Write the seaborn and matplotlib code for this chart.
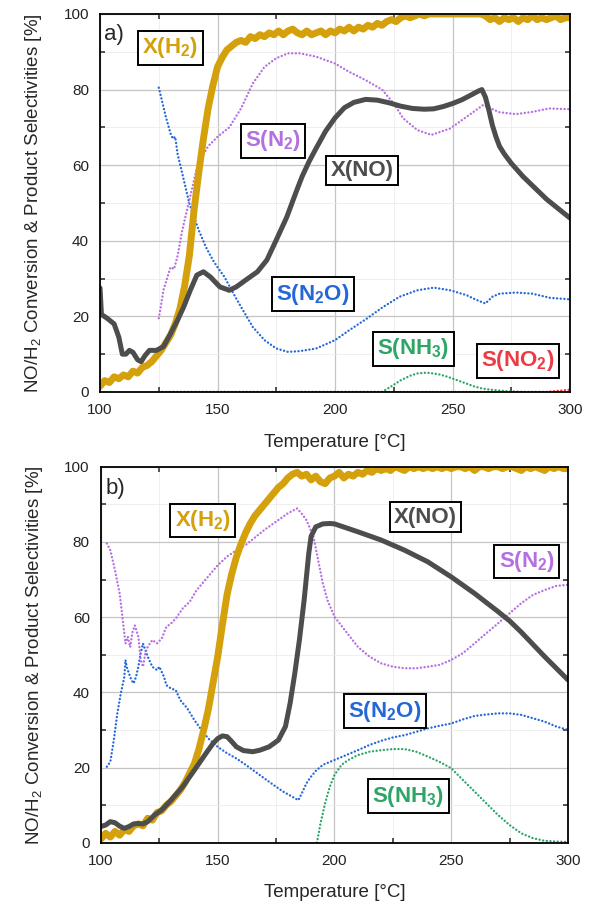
import matplotlib
matplotlib.use("Agg")
import matplotlib.pyplot as plt
import seaborn as sns
from matplotlib.ticker import MultipleLocator

# ---------------- panel a) ----------------
# hydrogen conversion, 2 degC steps
t_h2 = [100, 102, 104, 106, 108, 110, 112, 114, 116, 118, 120, 122, 124, 126, 128,
        130, 132, 134, 136, 138, 140, 142, 144, 146, 148, 150, 152, 154, 156, 158,
        160, 162, 164, 166, 168, 170, 172, 174, 176, 178, 180, 182, 184, 186, 188,
        190, 192, 194, 196, 198, 200, 202, 204, 206, 208, 210, 212, 214, 216, 218,
        220, 222, 224, 226, 228, 230, 232, 234, 236, 238, 240, 242, 244, 246, 248,
        250, 252, 254, 256, 258, 260, 262, 264, 266, 268, 270, 272, 274, 276, 278,
        280, 282, 284, 286, 288, 290, 292, 294, 296, 298, 300]
a_xh2 = [1.5, 3, 2.5, 4, 3.5, 4.5, 4, 5.5, 5, 6.5, 7, 8, 9.5, 11, 13,
         15, 18, 22, 28, 36, 48, 58, 67, 75, 81, 86, 88.5, 90.5, 91.5, 92.5,
         93, 92.5, 94, 93.5, 94.5, 94, 95, 94.5, 95.5, 94.5, 95.5, 96, 95, 94.5, 95.5,
         94.5, 95, 95.5, 94.5, 95.5, 95, 96, 95.5, 96.5, 95.5, 96.5, 96, 97, 96.5, 97.5,
         97, 98, 98.5, 98, 99, 99.5, 99, 99.5, 100, 99.5, 100, 100, 100, 100, 100,
         100, 100, 100, 100, 100, 100, 100, 99.5, 98.5, 99, 98, 99, 98.5, 99, 98,
         99, 98.5, 99.5, 98.5, 99, 98.5, 99, 99.5, 98.5, 99, 99]

a_t_xno = [100, 100.6, 103, 106, 108, 109.5, 111, 112.5, 114, 116, 117.5, 119, 121,
           124, 127, 130, 133, 135.6, 138.4, 141.2, 144, 147, 151, 155, 158, 162,
           167, 171, 175, 179.5, 183.5, 186, 189, 192, 196, 200, 204, 208, 213, 218,
           223, 228, 233, 238, 242, 246, 250, 254, 258, 261, 262.5, 264, 265.5, 267,
           268.5, 270, 272, 275, 280, 285, 290, 295, 300]
a_xno = [27.5, 20.5, 19.5, 18, 14.5, 10, 10, 11, 10.5, 8.5, 8, 9.5, 11,
         11, 12, 15.4, 19, 22.5, 26.9, 30.9, 31.8, 30.4, 27.8, 26.9, 27.8, 29.6,
         31.8, 34.9, 40.2, 46.3, 53, 57, 61, 64.5, 69, 72.5, 75.2, 76.6, 77.4, 77.2,
         76.5, 75.6, 75, 74.8, 74.9, 75.5, 76.3, 77.3, 78.6, 79.6, 80, 78, 74.5, 70.5,
         67.5, 65, 63, 60.5, 57, 54, 51, 48.5, 46]

a_t_sn2 = [125, 126, 127, 128.5, 130, 131.5, 133, 135, 138, 141, 143, 146, 150, 155,
           160, 165, 170, 175, 180, 185, 192, 200, 206, 213, 220, 225, 229, 235, 241,
           249, 256, 263, 270, 277, 284, 291, 300]
a_sn2 = [19.5, 23, 27, 30, 33, 32.5, 36, 42.8, 50.7, 58.7, 61.8, 65, 67.5, 70,
         75, 81.6, 86, 88.3, 89.6, 89.6, 88.7, 86.9, 84.7, 82.5, 80, 76.3, 72.4, 69.3, 68,
         69.7, 72.8, 75.9, 74, 73.5, 74.1, 75, 74.8]

a_t_sn2o = [125, 126, 128, 130, 131, 132, 133, 135, 138, 140, 142, 145, 148, 150, 153,
            156, 160, 165, 170, 175, 180, 185, 192, 200, 206, 213.5, 220.5, 227.5,
            235, 242, 249, 256, 260, 264, 267, 270, 277, 284, 291.5, 300]
a_sn2o = [80.5, 78, 72.8, 68.4, 67, 67.5, 63, 57.8, 49.9, 46.3, 42.8, 38.4, 34.9, 33, 30.4,
          26.9, 22.5, 17.2, 13.7, 11.5, 10.6, 10.8, 11.5, 13.7, 16.3, 19.4, 22.5, 25.2,
          26.9, 27.6, 26.9, 25.6, 24.4, 23.4, 25.2, 26, 26.3, 26, 24.9, 24.5]

a_t_snh3 = [125, 220, 224, 228, 232, 235, 239, 244, 248, 252, 256, 259, 262, 266, 273, 280, 300]
a_snh3 = [0, 0, 1.5, 3.1, 4.3, 4.9, 5.1, 4.7, 4.0, 3.1, 2.2, 1.5, 1.0, 0.6, 0.2, 0, 0]

a_t_sno2 = [125, 290, 295, 300]
a_sno2 = [0, 0, 0.3, 0.6]

# ---------------- panel b) ----------------
b_xh2 = [1, 2.5, 1.5, 3, 2, 3.5, 3, 4.5, 5, 4.5, 6.5, 6, 8, 8.5, 10,
         11, 12.5, 14, 16, 18.5, 21, 25, 30, 35.5, 42.5, 49.5, 58, 66, 71.5, 76,
         79.5, 82.5, 85, 87, 88.5, 90, 91.5, 93, 94.5, 95.5, 97, 98, 98.5, 97.5, 98,
         96.5, 97.5, 96, 95.5, 97, 97.5, 98.5, 97, 98, 97.5, 98.5, 98, 99, 98.5, 99.5,
         99, 99.5, 99, 100, 99.5, 99, 100, 99.5, 100, 99.5, 100, 99.5, 100, 99.5, 100,
         99.5, 100, 100, 99.5, 100, 99, 100, 100, 99.5, 100, 100, 99.5, 100, 100, 99.5,
         99, 100, 99.5, 100, 99.5, 99, 100, 99.5, 100, 99.5, 99.5]

b_t_xno = [100, 102, 104, 106, 108, 110, 112, 114, 116, 118, 120, 123, 126, 130, 135,
           140, 145, 148, 150, 152, 154, 156, 158, 161, 165, 168, 172, 176, 179, 181,
           183, 185, 187, 189, 190, 192, 195, 198, 200, 210, 220, 230, 240, 250, 260,
           270, 275, 280, 290, 300]
b_xno = [4.3, 4.7, 5.6, 5.3, 4.4, 3.8, 4.3, 5.0, 5.1, 5.0, 5.6, 7.4, 8.7, 11.3, 14.9,
         19.3, 23.8, 26.4, 27.7, 28.4, 28.2, 26.9, 25.5, 24.5, 24.2, 24.6, 25.5, 27.3, 30.9, 37.1,
         45, 54, 64.5, 77, 81.5, 84, 84.8, 84.9, 84.8, 82.7, 80.5, 77.8, 74.7, 70.7, 66.3,
         61.5, 59, 56, 49.5, 43.3]

b_t_sn2 = [102.5, 104, 106, 108, 109.5, 110.5, 111.5, 112.5, 113.5, 114.5, 116, 117, 118,
           119, 120, 122, 124, 126, 128, 130, 132, 135, 138, 141, 144, 147, 150, 154,
           158, 162, 166, 170, 175, 180, 184, 186, 188, 191, 193, 195, 197, 200, 205,
           210, 215, 220, 225, 230, 235, 240, 245, 250, 255, 260, 265, 270, 275, 280,
           285, 290, 295, 300]
b_sn2 = [79.6, 77.8, 72.5, 66.3, 58.3, 53, 54.8, 52, 56, 57.8, 54.8, 48.6, 46.8,
         50.4, 52.1, 53.9, 53, 54.3, 57.4, 58.3, 59.6, 62.3, 64.1, 67.2, 69.4, 71.6, 73.8, 76.1,
         77.8, 79.2, 81.2, 83.2, 85.4, 87.6, 88.9, 87.5, 85.8, 81.4, 75.2, 69, 64.5, 60.1, 56.1,
         52.1, 49.5, 47.7, 46.8, 46.4, 46.4, 46.8, 47.3, 48.6, 50.4, 53, 55.7, 58.3, 61, 63.7,
         65.9, 67.2, 68.3, 68.6]

b_t_sn2o = [102.5, 104, 105.5, 107, 108.5, 110, 110.5, 111, 112, 113, 114, 115, 116, 117,
            118, 119, 120, 122, 124, 125, 127, 128, 130, 132, 134, 137, 140, 143, 146,
            150, 154, 158, 162, 166, 170, 174, 178, 182, 184.5, 186, 188, 190, 192, 195,
            200, 205, 210, 215, 220, 225, 230, 235, 240, 245, 250, 255, 260, 265, 270,
            275, 280, 285, 290, 295, 300]
b_sn2o = [20.2, 21.5, 27.3, 34.4, 39.7, 44.1, 48.6, 46.8, 45, 43.3, 42.4, 44.1, 46.8, 50.4,
          53, 51.2, 49.5, 46.8, 45.9, 46.8, 44.1, 41.9, 41, 40.6, 37.9, 35.7, 32.6, 30, 27.7,
          25.5, 23.8, 22.4, 20.7, 18.9, 17.1, 15.3, 13.6, 12.2, 11.3, 13.1, 15.8, 17.6, 19.1, 20.7,
          22, 23.3, 24.6, 26, 27.1, 28, 28.6, 29.5, 30.4, 31.1, 31.7, 32.8, 33.7, 34.1, 34.4,
          34.4, 34, 33.1, 32.2, 30.9, 30]

b_t_snh3 = [192.5, 194, 196, 198, 200, 203, 206, 210, 215, 220, 225, 230, 235, 240, 245,
            250, 255, 260, 265, 270, 275, 280, 285, 290, 295, 300]
b_snh3 = [0, 5.1, 10.5, 14.9, 18, 20.7, 22, 23.3, 24.2, 24.6, 24.9, 24.9, 24.2, 22.9, 21.5,
          19.8, 16.7, 13.6, 10.5, 7.4, 4.7, 2.5, 1.2, 0.5, 0.3, 0.2]

# colours
c_h2 = "#D4A00C"
c_no = "#4D4D4D"
c_n2 = "#B46FE0"
c_n2o = "#2468D8"
c_nh3 = "#2EA567"
c_no2 = "#EE3A44"

sns.set_style("white")
plt.rcParams["font.family"] = ["Liberation Sans", "DejaVu Sans"]
plt.rcParams["mathtext.fontset"] = "custom"
plt.rcParams["mathtext.rm"] = "Liberation Sans"
plt.rcParams["mathtext.bf"] = "Liberation Sans:bold"
plt.rcParams["mathtext.default"] = "regular"

fig = plt.figure(figsize=(6, 9.13), dpi=100)
ax_a = fig.add_axes([0.1667, 0.5707, 0.7833, 0.4140])
ax_b = fig.add_axes([0.1683, 0.0770, 0.7783, 0.4118])

dot = (0.05, 1.5)


def draw_lines(ax, series):
    for x, y, col, lw, dotted in series:
        line_ax = sns.lineplot(x=x, y=y, ax=ax, color=col, linewidth=lw,
                               estimator=None, sort=False)
        ln = line_ax.lines[-1]
        if dotted:
            ln.set_dashes(dot)
            ln.set_dash_capstyle("round")
        else:
            ln.set_solid_joinstyle("round")


draw_lines(ax_a, [
    (a_t_sno2, a_sno2, c_no2, 1.7, True),
    (a_t_snh3, a_snh3, c_nh3, 1.7, True),
    (a_t_sn2o, a_sn2o, c_n2o, 1.7, True),
    (a_t_sn2, a_sn2, c_n2, 1.7, True),
    (t_h2, a_xh2, c_h2, 5.0, False),
    (a_t_xno, a_xno, c_no, 3.6, False),
])
draw_lines(ax_b, [
    (b_t_snh3, b_snh3, c_nh3, 1.7, True),
    (b_t_sn2o, b_sn2o, c_n2o, 1.7, True),
    (b_t_sn2, b_sn2, c_n2, 1.7, True),
    (t_h2, b_xh2, c_h2, 5.0, False),
    (b_t_xno, b_xno, c_no, 3.6, False),
])

box = dict(boxstyle="square,pad=0.2", fc="white", ec="black", lw=1.4)
lab_kw = dict(fontsize=16, fontweight="bold", ha="center", va="center", bbox=box, zorder=5)

ax_a.text(101.5, 94.5, "a)", fontsize=16, ha="left", va="center")
ax_a.text(129.8, 91.0, "X(H$_\\mathbf{2}$)", color=c_h2, **lab_kw)
ax_a.text(173.6, 66.5, "S(N$_\\mathbf{2}$)", color=c_n2, **lab_kw)
ax_a.text(211.5, 58.6, "X(NO)", color=c_no, **lab_kw)
ax_a.text(190.6, 25.9, "S(N$_\\mathbf{2}$O)", color=c_n2o, **lab_kw)
ax_a.text(233.2, 11.4, "S(NH$_\\mathbf{3}$)", color=c_nh3, **lab_kw)
ax_a.text(277.9, 8.2, "S(NO$_\\mathbf{2}$)", color=c_no2, **lab_kw)

ax_b.text(102.0, 94.1, "b)", fontsize=16, ha="left", va="center")
ax_b.text(143.5, 85.7, "X(H$_\\mathbf{2}$)", color=c_h2, **lab_kw)
ax_b.text(239.0, 86.6, "X(NO)", color=c_no, **lab_kw)
ax_b.text(282.4, 74.8, "S(N$_\\mathbf{2}$)", color=c_n2, **lab_kw)
ax_b.text(221.6, 35.0, "S(N$_\\mathbf{2}$O)", color=c_n2o, **lab_kw)
ax_b.text(231.7, 12.4, "S(NH$_\\mathbf{3}$)", color=c_nh3, **lab_kw)

for ax in (ax_a, ax_b):
    ax.set_xlim(100, 300)
    ax.set_ylim(0, 100)
    ax.xaxis.set_major_locator(MultipleLocator(50))
    ax.xaxis.set_minor_locator(MultipleLocator(25))
    ax.yaxis.set_major_locator(MultipleLocator(20))
    ax.yaxis.set_minor_locator(MultipleLocator(10))
    ax.grid(which="major", color="#C4C4C4", linewidth=0.9)
    ax.grid(which="minor", color="#EDEDED", linewidth=0.6)
    ax.set_axisbelow(True)
    for sp in ax.spines.values():
        sp.set_visible(True)
        sp.set_color("black")
        sp.set_linewidth(1.3)
    ax.tick_params(which="major", direction="out", length=5, width=1.2,
                   labelsize=11, labelcolor="#222222", pad=3)
    ax.tick_params(which="minor", direction="in", length=3.5, width=1.1,
                   top=True, right=True, bottom=True, left=True)
    ax.set_xlabel("Temperature [°C]", fontsize=13.5, labelpad=12)
    ax.set_ylabel("NO/H$_2$ Conversion & Product Selectivities [%]", fontsize=13.5,
                  labelpad=14)

fig.savefig("out.png", dpi=100)
